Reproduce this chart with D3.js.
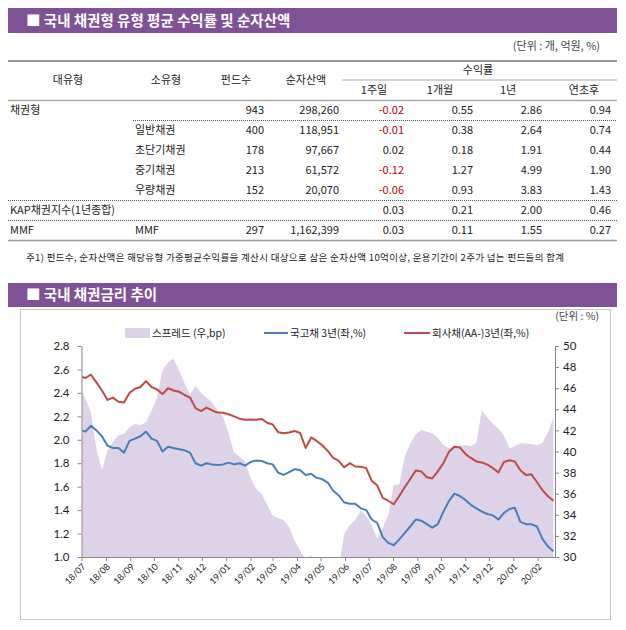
<!DOCTYPE html>
<html><head><meta charset="utf-8">
<script src="https://cdn.jsdelivr.net/npm/d3@7"></script>
<style>
body{margin:0;background:#fff;}
svg{display:block;font-family:'Noto Sans CJK KR','Noto Sans',sans-serif;}
</style>
</head><body><svg id="c" width="626" height="630"></svg>
<script>
// ---------------- texts ----------------
const tableTitle = "■ 국내 채권형 유형 평균 수익률 및 순자산액";
const chartTitle = "■ 국내 채권금리 추이";
const tableUnit = "(단위 : 개, 억원, %)";
const chartUnit = "(단위 : %)";
const footnote = "주1) 펀드수, 순자산액은 해당유형 가중평균수익률을 계산시 대상으로 삼은 순자산액 10억이상, 운용기간이 2주가 넘는 펀드들의 합계";
const headerTop = ["대유형", "소유형", "펀드수", "순자산액"];
const headerReturn = "수익률";
const headerPeriods = ["1주일", "1개월", "1년", "연초후"];

// ---------------- table data ----------------
const majorTypes = ["채권형", "", "", "", "", "KAP채권지수(1년종합)", "MMF"];
const minorTypes = ["", "일반채권", "초단기채권", "중기채권", "우량채권", "", "MMF"];
const fundCounts = ["943", "400", "178", "213", "152", "", "297"];
const netAssets = ["298,260", "118,951", "97,667", "61,572", "20,070", "", "1,162,399"];
const ret1w = [-0.02, -0.01, 0.02, -0.12, -0.06, 0.03, 0.03];
const ret1m = [0.55, 0.38, 0.18, 1.27, 0.93, 0.21, 0.11];
const ret1y = [2.86, 2.64, 1.91, 4.99, 3.83, 2.00, 1.55];
const retYtd = [0.94, 0.74, 0.44, 1.90, 1.43, 0.46, 0.27];

// ---------------- chart data (weekly readings) ----------------
const weekDates = ["2018-07-02",
"2018-07-06","2018-07-13","2018-07-20","2018-07-27","2018-08-03","2018-08-10","2018-08-17","2018-08-24","2018-08-31",
"2018-09-07","2018-09-14","2018-09-21","2018-09-28","2018-10-05","2018-10-12","2018-10-19","2018-10-26","2018-11-02",
"2018-11-09","2018-11-16","2018-11-23","2018-11-30","2018-12-07","2018-12-14","2018-12-21","2018-12-28",
"2019-01-04","2019-01-11","2019-01-18","2019-01-25","2019-02-01","2019-02-08","2019-02-15","2019-02-22","2019-03-01",
"2019-03-08","2019-03-15","2019-03-22","2019-03-29","2019-04-05","2019-04-12","2019-04-19","2019-04-26","2019-05-03",
"2019-05-10","2019-05-17","2019-05-24","2019-05-31","2019-06-07","2019-06-14","2019-06-21","2019-06-28","2019-07-05",
"2019-07-12","2019-07-19","2019-07-26","2019-08-02","2019-08-09","2019-08-16","2019-08-23","2019-08-30","2019-09-06",
"2019-09-13","2019-09-20","2019-09-27","2019-10-04","2019-10-11","2019-10-18","2019-10-25","2019-11-01","2019-11-08",
"2019-11-15","2019-11-22","2019-11-29","2019-12-06","2019-12-13","2019-12-20","2019-12-27",
"2020-01-03","2020-01-10","2020-01-17","2020-01-24","2020-01-31","2020-02-07","2020-02-14","2020-02-21"];

const ktb3y = [2.08,
2.07,2.12,2.08,2.03,1.95,1.93,1.93,1.89,1.99,
2.01,2.03,2.07,2.01,1.99,1.90,1.94,1.93,1.92,
1.91,1.89,1.80,1.78,1.80,1.79,1.785,1.79,
1.805,1.79,1.80,1.78,1.81,1.823,1.82,1.80,1.79,
1.72,1.70,1.725,1.75,1.74,1.70,1.71,1.675,1.665,
1.635,1.565,1.525,1.465,1.455,1.455,1.415,1.40,1.32,
1.29,1.17,1.12,1.10,1.15,1.205,1.26,1.32,1.31,
1.28,1.25,1.28,1.385,1.475,1.54,1.52,1.487,1.445,
1.415,1.387,1.367,1.355,1.32,1.375,1.41,
1.42,1.30,1.28,1.28,1.26,1.155,1.09,1.05];

const corp3y = [2.535,
2.527,2.555,2.49,2.42,2.34,2.36,2.325,2.318,2.40,
2.435,2.45,2.50,2.45,2.43,2.39,2.44,2.42,2.41,
2.382,2.36,2.27,2.245,2.275,2.25,2.232,2.23,
2.218,2.20,2.18,2.17,2.174,2.17,2.178,2.145,2.13,
2.065,2.055,2.062,2.075,2.058,1.93,2.02,1.99,1.953,
1.905,1.845,1.82,1.765,1.80,1.772,1.77,1.758,1.65,
1.61,1.505,1.48,1.45,1.52,1.595,1.665,1.738,1.73,
1.68,1.67,1.73,1.80,1.895,1.94,1.935,1.88,1.845,
1.815,1.807,1.788,1.76,1.72,1.81,1.825,
1.815,1.74,1.70,1.705,1.64,1.57,1.518,1.48];

const spreadBp = [45.7,
45.0,43.7,40.2,38.25,40.1,40.9,41.55,41.65,42.3,
42.6,42.5,42.8,43.85,45.1,47.7,48.45,48.8,47.7,
46.46,45.4,46.2,45.55,45.1,44.7,43.87,43.3,
41.7,39.9,39.5,39.05,37.5,36.45,36.0,34.95,33.93,
33.67,33.5,32.85,31.55,30.6,29.8,30.15,29.5,29.0,
28.5,28.5,29.0,32.2,33.0,33.5,34.4,33.9,33.0,
31.75,32.8,33.95,36.8,36.9,39.5,40.75,41.6,42.04,
41.88,41.7,41.3,40.65,40.3,40.45,40.55,40.6,40.5,
40.8,43.9,43.2,42.6,42.2,41.5,40.3,
40.5,40.78,40.77,40.7,40.6,40.8,41.8,43.2];

const leftTicks = [1.0, 1.2, 1.4, 1.6, 1.8, 2.0, 2.2, 2.4, 2.6, 2.8];
const rightTicks = [30, 32, 34, 36, 38, 40, 42, 44, 46, 48, 50];
const monthTicks = ["2018-07-01","2018-08-01","2018-09-01","2018-10-01","2018-11-01","2018-12-01",
"2019-01-01","2019-02-01","2019-03-01","2019-04-01","2019-05-01","2019-06-01","2019-07-01",
"2019-08-01","2019-09-01","2019-10-01","2019-11-01","2019-12-01","2020-01-01","2020-02-01"];
const legendLabels = ["스프레드 (우,bp)", "국고채 3년(좌,%)", "회사채(AA-)3년(좌,%)"];

// ---------------- drawing ----------------
const svg = d3.select("#c");
const PURPLE = "#7f5196";
const LAV = "#ddd2e7";
const BLUE = "#4a7ebb";
const RED = "#be4b48";

svg.append("rect").attr("width", 626).attr("height", 630).attr("fill", "#fff");

function sectionBar(y, h, label) {
  svg.append("rect").attr("x", 8).attr("y", y).attr("width", 609).attr("height", h).attr("fill", PURPLE);
  svg.append("text").attr("x", 26).attr("y", y + h / 2).attr("dy", "0.36em")
    .attr("fill", "#fff").attr("font-size", 14.5).attr("font-weight", "bold").text(label);
}
sectionBar(8, 25, tableTitle);

svg.append("text").attr("x", 600).attr("y", 46).attr("dy", "0.35em").attr("text-anchor", "end")
  .attr("font-size", 11).attr("fill", "#444").text(tableUnit);

// table lines
const line = (x1, y1, x2, y2, col, w, dash) => svg.append("line")
  .attr("x1", x1).attr("y1", y1).attr("x2", x2).attr("y2", y2)
  .attr("stroke", col).attr("stroke-width", w).attr("stroke-dasharray", dash || null);

line(8, 61, 617, 61, "#999", 2);
line(342, 80, 617, 80, "#aaa", 1);
line(8, 100.5, 617, 100.5, "#aaa", 1.5);
line(133, 120.5, 617, 120.5, "#555", 1, "1,1");
line(8, 200.5, 617, 200.5, "#555", 1, "1,1");
line(8, 220.5, 617, 220.5, "#555", 1, "1,1");
line(8, 240.5, 617, 240.5, "#999", 1.5);

const hdrX = [68, 166, 236, 306];
headerTop.forEach((t, i) => svg.append("text").attr("x", hdrX[i]).attr("y", 80).attr("dy", "0.35em")
  .attr("text-anchor", "middle").attr("font-size", 11).attr("fill", "#222").text(t));
svg.append("text").attr("x", 478).attr("y", 70.5).attr("dy", "0.35em").attr("text-anchor", "middle")
  .attr("font-size", 11).attr("fill", "#222").text(headerReturn);
const perX = [374, 440, 508, 584];
headerPeriods.forEach((t, i) => svg.append("text").attr("x", perX[i]).attr("y", 90).attr("dy", "0.35em")
  .attr("text-anchor", "middle").attr("font-size", 11).attr("fill", "#222").text(t));

const rowY = [110.5, 130.5, 150.5, 170.5, 190.5, 210.5, 230.5];
const fmt2 = d3.format(".2f");
const fmtRet = v => (v < 0 ? "-" + fmt2(-v) : fmt2(v));
const cols = [
  {vals: majorTypes, x: 10, anchor: "start"},
  {vals: minorTypes, x: 135, anchor: "start"},
  {vals: fundCounts, x: 264, anchor: "end"},
  {vals: netAssets, x: 339, anchor: "end"},
  {vals: ret1w, x: 404, anchor: "end", num: true},
  {vals: ret1m, x: 473, anchor: "end", num: true},
  {vals: ret1y, x: 542, anchor: "end", num: true},
  {vals: retYtd, x: 611, anchor: "end", num: true}
];
cols.forEach(c => {
  c.vals.forEach((v, r) => {
    if (v === "") return;
    const txt = c.num ? fmtRet(v) : v;
    svg.append("text").attr("x", c.x).attr("y", rowY[r]).attr("dy", "0.35em")
      .attr("text-anchor", c.anchor).attr("font-size", 11)
      .attr("fill", c.num && v < 0 ? "#c00000" : "#222").text(txt);
  });
});

svg.append("text").attr("x", 26).attr("y", 258).attr("dy", "0.35em").attr("font-size", 9.5)
  .attr("textLength", 538).attr("lengthAdjust", "spacing")
  .attr("fill", "#222").text(footnote);

sectionBar(283, 24, chartTitle);

// chart frame
svg.append("rect").attr("x", 20.5).attr("y", 309.5).attr("width", 590).attr("height", 310)
  .attr("fill", "none").attr("stroke", "#c8c8c8");
svg.append("text").attr("x", 599).attr("y", 316).attr("dy", "0.35em").attr("text-anchor", "end")
  .attr("font-size", 10.5).attr("fill", "#444").text(chartUnit);

// scales
const parse = d3.timeParse("%Y-%m-%d");
const dates = weekDates.map(parse);
const X0 = 81.5, X1 = 555, Y0 = 557, Y1 = 346;
const x = d3.scaleTime().domain([parse("2018-07-01"), parse("2020-02-23")]).range([X0, X1]);
const yL = d3.scaleLinear().domain([1.0, 2.8]).range([Y0, Y1]);
const yR = d3.scaleLinear().domain([30, 50]).range([Y0, Y1]);

svg.append("clipPath").attr("id", "plotclip").append("rect")
  .attr("x", X0).attr("y", Y1).attr("width", X1 - X0).attr("height", Y0 - Y1);

const plot = svg.append("g").attr("clip-path", "url(#plotclip)");
const area = d3.area().x((d, i) => x(dates[i])).y0(Y0 + 5).y1(d => yR(d));
plot.append("path").datum(spreadBp).attr("d", area).attr("fill", LAV);

const lineGen = d3.line().x((d, i) => x(dates[i])).y(d => yL(d));
plot.append("path").datum(corp3y).attr("d", lineGen).attr("fill", "none")
  .attr("stroke", RED).attr("stroke-width", 2).attr("stroke-linejoin", "round");
plot.append("path").datum(ktb3y).attr("d", lineGen).attr("fill", "none")
  .attr("stroke", BLUE).attr("stroke-width", 2).attr("stroke-linejoin", "round");

// axes
const axisStyle = g => {
  g.selectAll("path.domain").attr("stroke", "#868686");
  g.selectAll(".tick line").attr("stroke", "#868686");
  g.selectAll("text").attr("fill", "#222").attr("font-family", "Lato, 'Open Sans', sans-serif");
};
svg.append("g").attr("transform", `translate(${X0},0)`)
  .call(d3.axisLeft(yL).tickValues(leftTicks).tickFormat(d3.format(".1f")).tickSize(4).tickSizeOuter(0).tickPadding(8))
  .call(axisStyle).call(g => g.selectAll("text").attr("font-size", 11.5));
svg.append("g").attr("transform", `translate(${X1},0)`)
  .call(d3.axisRight(yR).tickValues(rightTicks).tickSize(4).tickSizeOuter(0).tickPadding(4))
  .call(axisStyle).call(g => g.selectAll("text").attr("font-size", 11.5));
svg.append("g").attr("transform", `translate(0,${Y0})`)
  .call(d3.axisBottom(x).tickValues(monthTicks.map(parse)).tickFormat(d3.timeFormat("%y/%m")).tickSize(4).tickSizeOuter(0))
  .call(axisStyle)
  .call(g => g.selectAll("text").attr("font-size", 9).attr("x", 0).attr("y", 0).attr("dy", "0.35em")
    .attr("text-anchor", "end").attr("transform", "translate(2,8) rotate(-45)"));

// legend
const LY = 333;
svg.append("rect").attr("x", 125).attr("y", LY - 5).attr("width", 25).attr("height", 10).attr("fill", LAV);
svg.append("line").attr("x1", 264).attr("x2", 288).attr("y1", LY).attr("y2", LY).attr("stroke", BLUE).attr("stroke-width", 2);
svg.append("line").attr("x1", 404).attr("x2", 430).attr("y1", LY).attr("y2", LY).attr("stroke", RED).attr("stroke-width", 2);
const legX = [152, 290, 432];
legendLabels.forEach((t, i) => svg.append("text").attr("x", legX[i]).attr("y", LY).attr("dy", "0.35em")
  .attr("font-size", 10.5).attr("fill", "#222").text(t));
</script>
</body></html>
